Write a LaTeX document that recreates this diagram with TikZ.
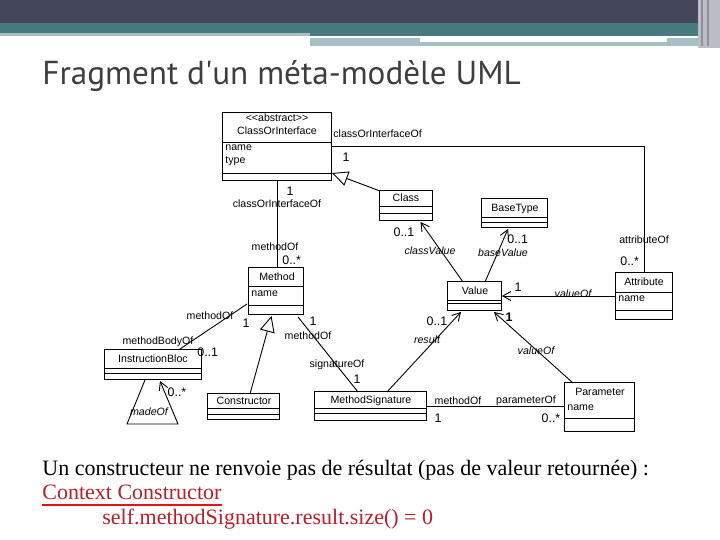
\documentclass[tikz,border=0pt]{standalone}
\usepackage{fontspec}
\setmainfont{Liberation Serif}
\newfontfamily\umlfont{Liberation Sans}
\newfontfamily\titlefont{PT Sans}
\usepackage{xcolor}
\definecolor{slidedark}{HTML}{44465A}
\definecolor{slideteal}{HTML}{487B80}
\definecolor{slidepale}{HTML}{A8BFC2}
\definecolor{slidegrey}{HTML}{BBBDC6}
\definecolor{titlegrey}{HTML}{3E3E3E}
\definecolor{ctxred}{HTML}{B81F28}
\definecolor{ulred}{HTML}{E01414}
\usetikzlibrary{arrows.meta,positioning,fit,calc}

\begin{document}
\begin{tikzpicture}[x=0.5pt, y=-0.5pt,
  box/.style={draw=black, line width=0.5pt, inner sep=0pt, outer sep=0pt},
  wire/.style={line width=0.45pt, black},
  nav/.style={wire, -{Straight Barb[length=4pt,width=4.5pt]}},
  gen/.style={wire, -{Triangle[open,length=8pt,width=7.5pt,fill=white]}},
  lbl/.style={inner sep=0pt, font=\umlfont\fontsize{5.3}{6}\selectfont},
  role/.style={lbl, font=\umlfont\itshape\fontsize{5.3}{6}\selectfont},
  mult/.style={lbl, font=\umlfont\fontsize{6.2}{7}\selectfont},
  note/.style={inner sep=0pt, anchor=base west, font=\fontsize{11}{13}\selectfont},
]
\useasboundingbox[fill=white] (0,0) rectangle (720,540);

% ---------- header band
\fill[slidedark] (0,0) rectangle (700,23);
\fill[slideteal] (0,23) rectangle (700,33);
\fill[slideteal] (310,33) rectangle (700,36);
\fill[slidepale] (0,33) rectangle (310,36);
\fill[slidepale] (310,38) rectangle (700,46);
\fill[white] (420,38) rectangle (667,42);
\fill[slidegrey] (698,0) rectangle (720,48);
\draw[slidedark!60, line width=1pt] (702,0) -- (702,46) (708,0) -- (708,46);

\node[inner sep=0pt, anchor=base west, text=titlegrey, font=\titlefont\fontsize{16.6}{19}\selectfont]
  (title) at (42,85) {Fragment d\textquotesingle un méta-modèle UML};

% ---------- classes
\node[box, fit={(223,113) (332,181)}] (coi) {};
\node[box, fit={(380,191) (433,221)}] (cls) {};
\node[box, fit={(482,199) (548,228)}] (btype) {};
\node[box, fit={(249,268) (304,315)}] (meth) {};
\node[box, fit={(448,282) (502,311)}] (val) {};
\node[box, fit={(616,273) (673,320)}] (attr) {};
\node[box, fit={(105,350) (202,380)}] (ibloc) {};
\node[box, fit={(208,394) (280,420)}] (ctor) {};
\node[box, fit={(315,392) (427,421)}] (msig) {};
\node[box, fit={(565,383) (635,432)}] (param) {};

\foreach \b/\y in {coi/142, coi/173, cls/206, cls/213, btype/217, btype/222,
                   meth/286, meth/305, val/300, val/303, attr/292, attr/310,
                   ibloc/368, ibloc/373, ctor/408, ctor/414, msig/408, msig/413, param/418}
  \draw[wire] (\b.west |- 0,\y) -- (\b.east |- 0,\y);

\node[lbl] at (277,118) {<<abstract>>};
\node[lbl] at (277,131) {ClassOrInterface};
\node[lbl, anchor=west] at (225,148) {name};
\node[lbl, anchor=west] at (225,161) {type};
\node[lbl] at (406,198) {Class};
\node[lbl] at (515,209) {BaseType};
\node[lbl] at (277,277) {Method};
\node[lbl, anchor=west] at (251,294) {name};
\node[lbl] at (475,291) {Value};
\node[lbl] at (644,282) {Attribute};
\node[lbl, anchor=west] at (618,299) {name};
\node[lbl] at (153,359) {InstructionBloc};
\node[lbl] at (244,401) {Constructor};
\node[lbl] at (371,401) {MethodSignature};
\node[lbl] at (600,392) {Parameter};
\node[lbl, anchor=west] at (567,408) {name};

% ---------- associations
\draw[wire] (coi.east |- 0,146) -| (attr.north);
\draw[wire] (coi.south) -- (coi.south |- meth.north);
\draw[gen] (cls.north west) -- (coi.east |- 0,173);
\draw[nav] ($(val.north west)+(15,0)$) -- ($(cls.south)+(14,1)$);
\draw[nav] ($(val.north west)+(37,0)$) -- ($(btype.south)+(-7,1)$);
\draw[nav] (attr.west |- 0,296) -- (val.east |- 0,296);
\draw[nav] ($(msig.north west)+(72,0)$) -- ($(val.south west)+(13,1)$);
\draw[nav] ($(param.north west)+(8,0)$) -- ($(val.south east)+(-8,1)$);
\draw[wire] ($(meth.south west)+(-2,-11)$) -- ($(ibloc.north)+(25,0)$);
\draw[gen] ($(ctor.north)+(6,0)$) -- ($(meth.south)+(-5,1)$);
\draw[wire] ($(meth.south east)+(-6,2)$) -- ($(msig.north)+(-13,0)$);
\draw[wire] (msig.east |- 0,406) -- (param.west |- 0,406);
\draw[nav] ($(ibloc.south west)+(40,0)$) -- (127,424) -- (178,424) -- ($(ibloc.south west)+(55,1)$);

% ---------- role names and multiplicities
\node[lbl, anchor=west] at (333,134) {classOrInterfaceOf};
\node[mult] at (346,157) {1};
\node[mult] at (290,191) {1};
\node[lbl] at (277,204) {classOrInterfaceOf};
\node[mult] at (404,232) {0..1};
\node[role] at (430,251) {classValue};
\node[mult, anchor=west] at (507,239) {0..1};
\node[role] at (503,253) {baseValue};
\node[lbl] at (644,240) {attributeOf};
\node[mult, anchor=west] at (620,261) {0..*};
\node[lbl] at (275,247) {methodOf};
\node[mult, anchor=west] at (282,260) {0..*};
\node[mult] at (518,287) {1};
\node[role] at (573,294) {valueOf};
\node[mult] at (437,321) {0..1};
\node[mult, font=\umlfont\bfseries\fontsize{6.2}{7}\selectfont] at (509,317) {1};
\node[role] at (427,340) {result};
\node[role] at (536,351) {valueOf};
\node[lbl] at (210,316) {methodOf};
\node[mult] at (246,323) {1};
\node[mult] at (313,321) {1};
\node[lbl] at (308,336) {methodOf};
\node[lbl] at (158,342) {methodBodyOf};
\node[mult, anchor=west] at (197,352) {0..1};
\node[lbl] at (337,365) {signatureOf};
\node[mult] at (357,379) {1};
\node[mult] at (177,392) {0..*};
\node[role] at (149,412) {madeOf};
\node[lbl] at (458,401) {methodOf};
\node[lbl] at (526,401) {parameterOf};
\node[mult] at (438,418) {1};
\node[mult] at (551,418) {0..*};

% ---------- OCL note
\node[note] (remark) at (42,476) {Un constructeur ne renvoie pas de résultat (pas de valeur retournée) :};
\node[note, text=ctxred] (ctx) at (42,500) {Context Constructor};
\draw[ulred, line width=1.2pt] ($(ctx.base west)+(0,5)$) -- ($(ctx.base east)+(0,5)$);
\node[note, text=ctxred] (inv) at (102,525) {self.methodSignature.result.size() = 0};
\end{tikzpicture}
\end{document}
